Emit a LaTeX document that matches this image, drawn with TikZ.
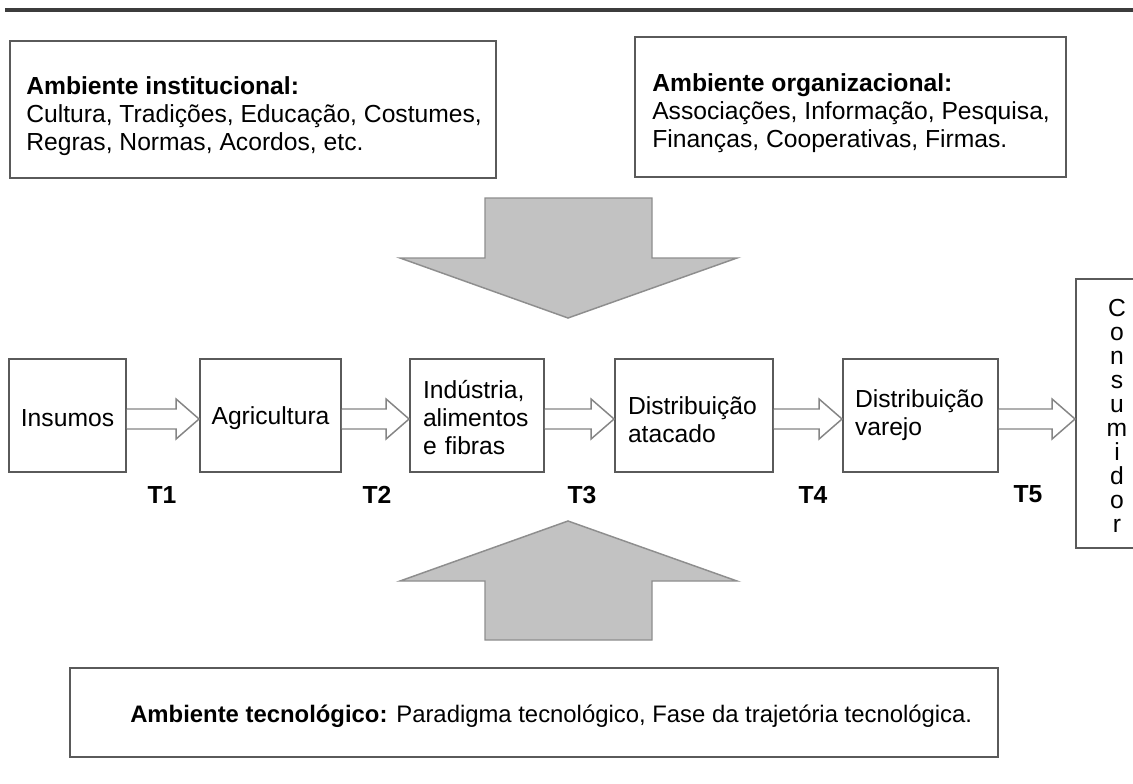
\documentclass[tikz,border=0pt]{standalone}
\usepackage{fontspec}
\setmainfont{Liberation Sans}
\usetikzlibrary{calc}
\definecolor{boxline}{HTML}{5A5A5A}
\definecolor{bigfill}{HTML}{C2C2C2}
\definecolor{bigline}{HTML}{8E8E8E}
\definecolor{flowline}{HTML}{858585}
\definecolor{topline}{HTML}{3C3C3C}

% hollow block arrow from the east side of one stage to the west side of the next,
% kept level with the first stage
\newcommand\flowarrow[2]{%
  \coordinate (#1-out) at (#1.east);
  \coordinate (#1-tip) at (#2.west |- #1.east);
  \draw[flowarrow]
    ($(#1-out)+(0,-6.5)$) -- ($(#1-tip)+(-23,-6.5)$) -- ($(#1-tip)+(-23,-16.5)$)
    -- ($(#1-tip)+(0,3.5)$) -- ($(#1-tip)+(-23,23.5)$) -- ($(#1-tip)+(-23,13.5)$)
    -- ($(#1-out)+(0,13.5)$);}

\begin{document}
\begin{tikzpicture}[x=0.75pt,y=-0.75pt,
  txt/.style={font=\fontsize{18.5}{21}\selectfont, inner sep=0pt},
  frame/.style={draw=boxline, line width=1.4pt, fill=white, inner sep=0pt},
  stage/.style={frame, minimum height={113*0.75pt}},
  tlabel/.style={inner sep=0pt, font=\fontsize{18.5}{21}\selectfont\bfseries},
  flowarrow/.style={draw=flowline, line width=1.1pt, fill=white, line join=miter},
  bigarrow/.style={fill=bigfill, draw=bigline, line width=1.1pt, line join=miter}]

\clip (0,0) rectangle (1133,783);
\fill[white] (0,0) rectangle (1133,783);

% heading rule
\draw[draw=topline, line width=3pt] (5,10) -- (1133,10);

% environments
\node[frame, minimum width={486*0.75pt}, minimum height={137*0.75pt}] (inst) at (253,109.5) {};
\node[txt, anchor=west, align=left] (instT) at (26,116.5)
  {\textbf{Ambiente institucional:}\\Cultura, Tradições, Educação, Costumes,\\Regras, Normas, Acordos, etc.};

\node[frame, minimum width={431*0.75pt}, minimum height={140*0.75pt}] (org) at (850.5,107) {};
\node[txt, anchor=west, align=left] (orgT) at (652,113)
  {\textbf{Ambiente organizacional:}\\Associações, Informação, Pesquisa,\\Finanças, Cooperativas, Firmas.};

\node[frame, minimum width={928*0.75pt}, minimum height={89*0.75pt}] (tec) at (534,712.5) {};
\node[txt, anchor=west, font=\fontsize{17.9}{21}\selectfont] (tecT) at (130,716)
  {\textbf{Ambiente tecnológico:} Paradigma tecnológico, Fase da trajetória tecnológica.};

% influence arrows
\draw[bigarrow] (485,198) -- (652,198) -- (652,258) -- (737,258) -- (568,318)
  -- (400,258) -- (485,258) -- cycle;
\draw[bigarrow] (485,640) -- (652,640) -- (652,581) -- (737,581) -- (568,521)
  -- (400,581) -- (485,581) -- cycle;

% chain stages
\node[stage, minimum width={117*0.75pt}] (ins) at (67.5,415.5) {};
\node[txt] (insT) at (67.5,418.5) {Insumos};
\node[stage, minimum width={141*0.75pt}] (agr) at (270.5,415.5) {};
\node[txt] (agrT) at (270.5,418.5) {Agricultura};
\node[stage, minimum width={134*0.75pt}] (ind) at (477,415.5) {};
\node[txt, align=left, text width={108*0.75pt}] (indT) at (477,417.5)
  {Indústria,\\alimentos\\e fibras};
\node[stage, minimum width={158*0.75pt}] (ata) at (694,415.5) {};
\node[txt, align=left, text width={132*0.75pt}] (ataT) at (694,419.5)
  {Distribuição\\atacado};
\node[stage, minimum width={155*0.75pt}] (var) at (920.5,415.5) {};
\node[txt, align=left, text width={131*0.75pt}] (varT) at (920.5,415.5)
  {Distribuição\\varejo};
\node[frame, minimum width={82*0.75pt}, minimum height={269*0.75pt}] (con) at (1117,413.5) {};
\node[inner sep=0pt, align=center, font=\fontsize{18.5}{18}\selectfont] (conT) at (1117,416)
  {C\\o\\n\\s\\u\\m\\i\\d\\o\\r};

% transactions
\flowarrow{ins}{agr}
\flowarrow{agr}{ind}
\flowarrow{ind}{ata}
\flowarrow{ata}{var}
\flowarrow{var}{con}

\node[tlabel] (t1) at (162,495) {T1};
\node[tlabel] (t2) at (377,495) {T2};
\node[tlabel] (t3) at (582,495) {T3};
\node[tlabel] (t4) at (813,495) {T4};
\node[tlabel] (t5) at (1028,494) {T5};

\end{tikzpicture}
\end{document}
